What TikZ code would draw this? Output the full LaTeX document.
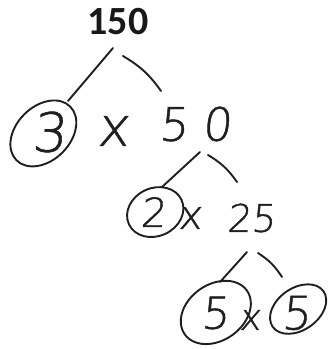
\documentclass[tikz,border=0pt]{standalone}
\usepackage{fontspec}
\setmainfont{Carlito}
\newfontfamily\hand{DejaVu Sans ExtraLight}[FakeSlant=0.1,FakeBold=1]
\begin{document}
\begin{tikzpicture}[x=1pt,y=-1pt,
  ink/.style={draw=black!88,line width=1.9pt,line cap=round},
  hw/.style={inner sep=0pt,text=black!88,font=\hand},
  ring/.style={draw=black!88,line width=1.9pt}]
\useasboundingbox (0,0) rectangle (328,349);
% numbers
\node[inner sep=0pt,font=\fontsize{40}{40}\bfseries\selectfont,text=black!90] (n150) at (118,22) {150};
\node[hw,font=\hand\fontsize{54}{54}\selectfont] (d3) at (49,132) {3};
\node[hw,font=\hand\fontsize{54}{54}\selectfont] (x1) at (113,131) {x};
\node[hw,font=\hand\fontsize{46}{46}\selectfont] (n50) at (195,124) {5\kern14pt0};
\node[hw,font=\hand\fontsize{40}{40}\selectfont] (d2) at (153,212) {2};
\node[hw,font=\hand\fontsize{40}{40}\selectfont] (x2) at (190,218) {x};
\node[hw,font=\hand\fontsize{38}{38}\selectfont] (n25) at (251,218) {25};
\node[hw,font=\hand\fontsize{44}{44}\selectfont] (d5a) at (215,313) {5};
\node[hw,font=\hand\fontsize{36}{36}\selectfont] (x3) at (250,320) {x};
\node[hw,font=\hand\fontsize{46}{46}\selectfont] (d5b) at (296,313) {5};
% rings
\draw[ring,rotate around={45:(d3.center)}] ([shift={(-5,-3)}]d3.center) ellipse [x radius=38,y radius=27];
\draw[ring,rotate around={25:(d2.center)}] ([shift={(2,1)}]d2.center) ellipse [x radius=29,y radius=24];
\draw[ring,rotate around={35:(d5a.center)}] ([shift={(1,0)}]d5a.center) ellipse [x radius=38,y radius=28];
\draw[ring,rotate around={35:(d5b.center)}] ([shift={(4,-2)}]d5b.center) ellipse [x radius=31,y radius=21];
% branches
\draw[ink] ([shift={(-5,26)}]n150.center) -- ([shift={(19,-31)}]d3.center);
\draw[ink] ([shift={(5,34)}]n150.center) to[bend left=12] ([shift={(-34,-33)}]n50.center);
\draw[ink] ([shift={(5,28)}]n50.center) -- ([shift={(9,-25)}]d2.center);
\draw[ink] ([shift={(13,31)}]n50.center) to[bend left=12] ([shift={(-14,-36)}]n25.center);
\draw[ink] ([shift={(-4,34)}]n25.center) -- ([shift={(5,-31)}]d5a.center);
\draw[ink] ([shift={(7,35)}]n25.center) to[bend left=12] ([shift={(-14,-36)}]d5b.center);
\end{tikzpicture}
\end{document}
